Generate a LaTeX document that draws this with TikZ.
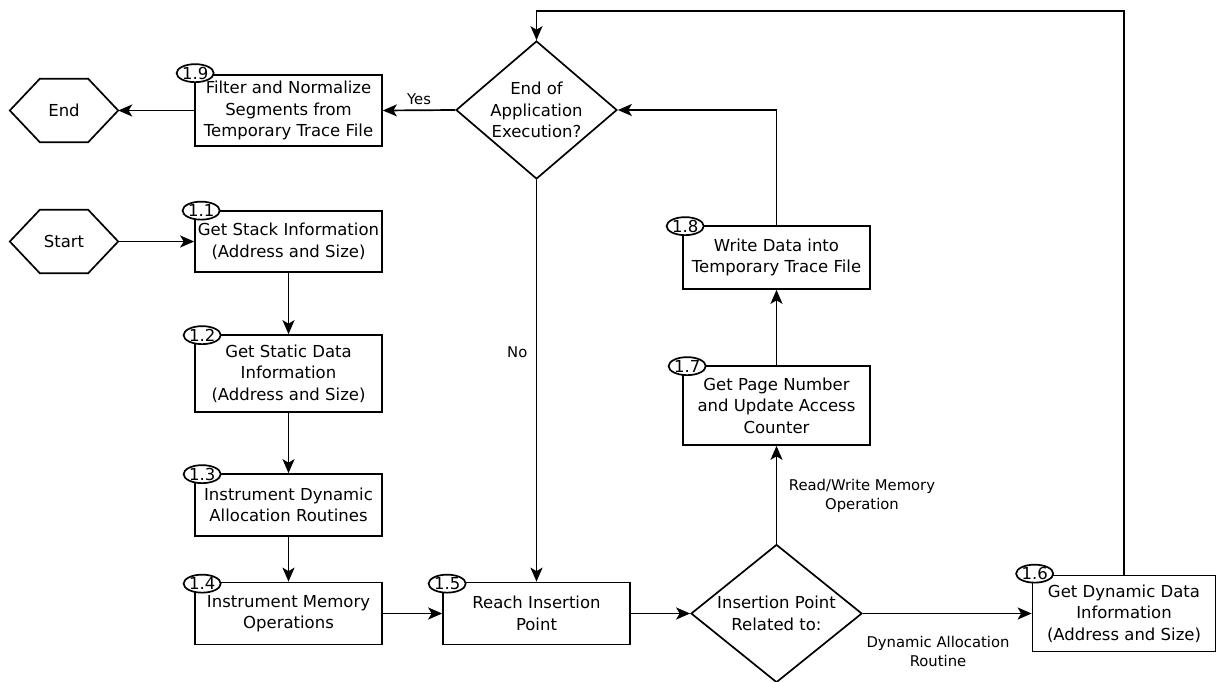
\documentclass[tikz,border=0pt]{standalone}
\usepackage{fontspec}
\setmainfont{DejaVu Sans}
\usetikzlibrary{arrows.meta,shapes.geometric,calc}
\begin{document}
\begin{tikzpicture}[x=1pt,y=-1pt,
  every node/.style={font=\fontsize{16.5}{21.5}\selectfont},
  box/.style={draw,line width=1.7pt,minimum width=187pt,inner sep=0pt,align=center,fill=white},
  tag/.style={draw,ellipse,fill=white,line width=1.7pt,minimum width=35pt,minimum height=18pt,inner sep=0pt,font=\fontsize{16.5}{16.5}\selectfont},
  dec/.style={draw,diamond,line width=1.7pt,inner sep=-12pt,align=center},
  term/.style={minimum width=108pt,minimum height=63pt,inner sep=0pt},
  lbl/.style={font=\fontsize{14.8}{19}\selectfont,align=center},
  ln/.style={line width=1.7pt},
  arr/.style={line width=1.7pt,-{Stealth[length=14pt,width=12pt,inset=3.5pt]}}
]
\useasboundingbox (0,0) rectangle (1217,682);

% terminals
\node[term] (end) at (64,110.5) {End};
\node[term] (start) at (64,241.5) {Start};
\foreach \n in {end,start}{
  \draw[ln] (\n.west) -- ([xshift=30pt]\n.north west) -- ([xshift=-30pt]\n.north east)
    -- (\n.east) -- ([xshift=-30pt]\n.south east) -- ([xshift=30pt]\n.south west) -- cycle;
}

% process boxes
\node[box,minimum height=71pt] (n19) at (288.5,110.5) {Filter and Normalize\\Segments from\\Temporary Trace File};
\node[box,minimum height=61pt] (n11) at (288.5,241.5) {Get Stack Information\\(Address and Size)};
\node[box,minimum height=77pt] (n12) at (288.5,373.5) {Get Static Data\\Information\\(Address and Size)};
\node[box,minimum height=62pt] (n13) at (288.5,505) {Instrument Dynamic\\Allocation Routines};
\node[box,minimum height=62pt] (n14) at (288.5,613.5) {Instrument Memory\\Operations};
\node[box,minimum height=62pt] (n15) at (536.5,613.5) {Reach Insertion\\Point};
\node[box,minimum height=76pt,minimum width=183pt] (n16) at (1124,613.5) {Get Dynamic Data\\Information\\(Address and Size)};
\node[box,minimum height=79pt] (n17) at (776.5,405.5) {Get Page Number\\and Update Access\\Counter};
\node[box,minimum height=63pt] (n18) at (776.5,257.5) {Write Data into\\Temporary Trace File};

% decisions
\node[dec,minimum width=161pt,minimum height=138pt] (d1) at (536.5,110) {End of\\Application\\Execution?};
\node[dec,minimum width=171pt,minimum height=138pt] (d2) at (776.5,613.5) {Insertion Point\\Related to:};

% tags
\node[tag] (t19) at ($(n19.north west)+(1,-1)$) {1.9};
\node[tag] (t11) at ($(n11.north west)+(7,0.5)$) {1.1};
\node[tag] (t12) at ($(n12.north west)+(8,1)$) {1.2};
\node[tag] (t13) at ($(n13.north west)+(8,1)$) {1.3};
\node[tag] (t14) at ($(n14.north west)+(8,2)$) {1.4};
\node[tag] (t15) at ($(n15.north west)+(5,2)$) {1.5};
\node[tag] (t16) at ($(n16.north west)+(3,-1)$) {1.6};
\node[tag] (t17) at ($(n17.north west)+(5,1)$) {1.7};
\node[tag] (t18) at ($(n18.north west)+(3,1)$) {1.8};

% connectors
\draw[arr] (start.east) -- (n11.west);
\draw[arr] (n11.south) -- (n12.north);
\draw[arr] (n12.south) -- (n13.north);
\draw[arr] (n13.south) -- (n14.north);
\draw[arr] (n14.east) -- (n15.west);
\draw[arr] (n15.east) -- (d2.west);
\draw[arr] (d2.east) -- (n16.west);
\draw[arr] (d2.north) -- (n17.south);
\draw[arr] (n17.north) -- (n18.south);
\draw[arr] (n18.north) |- (d1.east);
\draw[arr] (d1.west) -- node[lbl,above,pos=0.5,yshift=1pt] (lyes) {Yes} (n19.east);
\draw[arr] (n19.west) -- (end.east);
\draw[arr] (d1.south) -- node[lbl,left,pos=0.43,xshift=-5pt] (lno) {No} (n15.north);
\coordinate (topc) at (1124,11);
\draw[arr] (n16.north) -- (n16.north |- topc) -| (d1.north);

% edge labels
\node[lbl] (lrw) at (862,496) {Read/Write Memory\\Operation};
\node[lbl] (ldyn) at (938,651.5) {Dynamic Allocation\\Routine};
\end{tikzpicture}
\end{document}
